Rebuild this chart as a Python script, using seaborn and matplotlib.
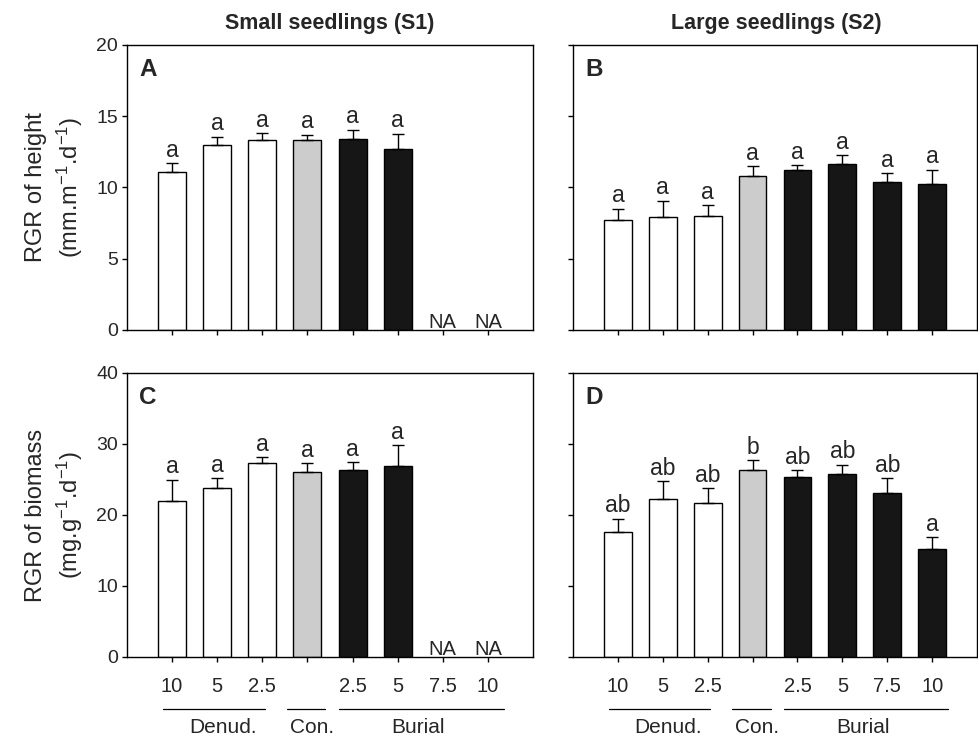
import matplotlib
matplotlib.use('Agg')
import matplotlib.pyplot as plt
import matplotlib.transforms as mtransforms
import numpy as np
import pandas as pd
import seaborn as sns

# treatments along the x axis (denudation depth, control, burial depth)
treatments = ['D10', 'D5', 'D2.5', 'Con', 'B2.5', 'B5', 'B7.5', 'B10']
tick_labels = ['10', '5', '2.5', '', '2.5', '5', '7.5', '10']
bar_colors = ['white', 'white', 'white', '#cccccc', '#161616', '#161616', '#161616', '#161616']

groups = ['Denud.', 'Con.', 'Burial']
group_spans = [(-0.2, 2.05), (2.55, 3.4), (3.7, 7.35)]
group_label_x = [1.12, 3.1, 5.45]

nan = np.nan
# A: RGR of height, small seedlings
height_s1 = [11.11, 13.0, 13.36, 13.33, 13.40, 12.73, nan, nan]
height_s1_se = [0.59, 0.57, 0.46, 0.38, 0.64, 1.05, nan, nan]
height_s1_letters = ['a', 'a', 'a', 'a', 'a', 'a', 'NA', 'NA']
# B: RGR of height, large seedlings
height_s2 = [7.74, 7.95, 8.0, 10.83, 11.2, 11.65, 10.41, 10.27]
height_s2_se = [0.77, 1.13, 0.77, 0.66, 0.36, 0.63, 0.61, 0.98]
height_s2_letters = ['a', 'a', 'a', 'a', 'a', 'a', 'a', 'a']
# C: RGR of biomass, small seedlings
biomass_s1 = [21.9, 23.75, 27.3, 26.1, 26.37, 26.84, nan, nan]
biomass_s1_se = [3.06, 1.4, 0.8, 1.16, 1.08, 2.95, nan, nan]
biomass_s1_letters = ['a', 'a', 'a', 'a', 'a', 'a', 'NA', 'NA']
# D: RGR of biomass, large seedlings
biomass_s2 = [17.6, 22.25, 21.73, 26.37, 25.34, 25.71, 23.04, 15.22]
biomass_s2_se = [1.9, 2.53, 2.06, 1.36, 0.98, 1.36, 2.16, 1.64]
biomass_s2_letters = ['ab', 'ab', 'ab', 'b', 'ab', 'ab', 'ab', 'a']

sns.set_style('ticks')
plt.rcParams['font.family'] = ['Liberation Sans', 'DejaVu Sans']
plt.rcParams['mathtext.fontset'] = 'custom'
plt.rcParams['mathtext.rm'] = 'Liberation Sans'
plt.rcParams['mathtext.it'] = 'Liberation Sans:italic'
plt.rcParams['mathtext.bf'] = 'Liberation Sans:bold'
plt.rcParams['mathtext.default'] = 'regular'


def draw_panel(ax, values, errors, letters, ylim, yticks, panel, ylabel=None, bottom=False):
    df = pd.DataFrame({'treatment': treatments, 'value': values})
    sns.barplot(data=df, x='treatment', y='value', hue='treatment',
                order=treatments, hue_order=treatments,
                palette=dict(zip(treatments, bar_colors)), legend=False,
                width=0.62, edgecolor='black', linewidth=1, errorbar=None, ax=ax)
    pos = np.arange(len(treatments))
    ax.errorbar(pos, values, yerr=[np.zeros(len(values)), errors], fmt='none',
                ecolor='black', elinewidth=1, capsize=4.5, capthick=1, zorder=1)
    for i, (v, e, t) in enumerate(zip(values, errors, letters)):
        if t == 'NA':
            ax.annotate(t, (i, 0), xytext=(0, 1.5), textcoords='offset points',
                        ha='center', va='baseline', fontsize=14.5)
        else:
            ax.annotate(t, (i, v + e), xytext=(0, 1), textcoords='offset points',
                        ha='center', va='bottom', fontsize=16.5)
    ax.set_xlim(-1, 8)
    ax.set_ylim(*ylim)
    ax.set_yticks(yticks)
    ax.set_xticks(pos)
    for s in ax.spines.values():
        s.set_visible(True)
        s.set_color('black')
        s.set_linewidth(1)
    ax.tick_params(axis='both', direction='out', length=3.5, width=1, color='black')
    ax.tick_params(axis='y', labelsize=14, pad=3)
    ax.tick_params(axis='x', labelsize=14.5, pad=11)
    ax.set_xlabel('')
    if ylabel:
        ax.set_ylabel(ylabel, fontsize=17, linespacing=1.35)
        ax.yaxis.set_label_coords(-0.103, 0.5)
    else:
        ax.set_ylabel('')
        ax.set_yticklabels([])
    if bottom:
        ax.set_xticklabels(tick_labels)
        trans = mtransforms.blended_transform_factory(ax.transData, ax.transAxes)
        for name, (x0, x1), lx in zip(groups, group_spans, group_label_x):
            ax.plot([x0, x1], [-0.183, -0.183], color='black', lw=0.9,
                    transform=trans, clip_on=False)
            ax.text(lx, -0.247, name, transform=trans, ha='center', va='center',
                    fontsize=15)
    else:
        ax.set_xticklabels([])
    ax.text(0.03, 0.89, panel, transform=ax.transAxes, fontsize=17.5,
            fontweight='bold', ha='left', va='baseline')


fig = plt.figure(figsize=(9.79, 7.39), dpi=100)
ax_a = fig.add_axes([0.1297, 0.5535, 0.4147, 0.3857])
ax_b = fig.add_axes([0.5853, 0.5535, 0.4127, 0.3857])
ax_c = fig.add_axes([0.1297, 0.111, 0.4147, 0.3843])
ax_d = fig.add_axes([0.5853, 0.111, 0.4127, 0.3843])

draw_panel(ax_a, height_s1, height_s1_se, height_s1_letters, (0, 20), [0, 5, 10, 15, 20],
           'A', ylabel='RGR of height\n(mm.m$^{-1}$.d$^{-1}$)')
draw_panel(ax_b, height_s2, height_s2_se, height_s2_letters, (0, 20), [0, 5, 10, 15, 20], 'B')
draw_panel(ax_c, biomass_s1, biomass_s1_se, biomass_s1_letters, (0, 40), [0, 10, 20, 30, 40],
           'C', ylabel='RGR of biomass\n(mg.g$^{-1}$.d$^{-1}$)', bottom=True)
draw_panel(ax_d, biomass_s2, biomass_s2_se, biomass_s2_letters, (0, 40), [0, 10, 20, 30, 40],
           'D', bottom=True)

fig.text(330 / 979, 1 - 23 / 739, 'Small seedlings (S1)', ha='center', va='center',
         fontsize=15.5, fontweight='bold')
fig.text(776 / 979, 1 - 23 / 739, 'Large seedlings (S2)', ha='center', va='center',
         fontsize=15.5, fontweight='bold')

fig.savefig('out.png', dpi=100)
